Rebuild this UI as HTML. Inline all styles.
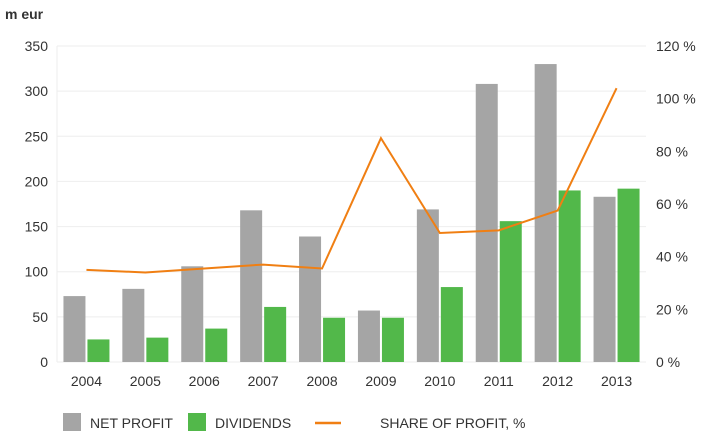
<!DOCTYPE html>
<html><head><meta charset="utf-8"><style>
body{margin:0;background:#fff;font-family:"Liberation Sans",sans-serif;}
svg text{font-family:"Liberation Sans",sans-serif;fill:#333;}
</style></head><body>
<svg width="712" height="435" viewBox="0 0 712 435">
<text x="5" y="19" font-size="14" font-weight="bold" fill="#333">m eur</text>
<g id="grid"></g><g id="bars"></g><g id="line"></g><g id="axes"></g>
<g>
<rect x="63" y="413" width="18" height="18" fill="#a5a5a5"/>
<text x="90" y="428" font-size="14">NET PROFIT</text>
<rect x="188" y="413" width="18" height="18" fill="#52b84a"/>
<text x="215" y="428" font-size="14">DIVIDENDS</text>
<line x1="315" y1="423" x2="341" y2="423" stroke="#f07f13" stroke-width="2.5"/>
<text x="380" y="428" font-size="14">SHARE OF PROFIT, %</text>
</g>
</svg>
<script>
const years=["2004","2005","2006","2007","2008","2009","2010","2011","2012","2013"];
const netProfit=[73,81,106,168,139,57,169,308,330,183];
const dividends=[25,27,37,61,49,49,83,156,190,192];
const sharePct=[35,34,35.5,37,35.5,85,49,50,57.5,104];
const leftTicks=[0,50,100,150,200,250,300,350];
const rightTicks=[0,20,40,60,80,100,120];
const NS="http://www.w3.org/2000/svg";
const x0=57,x1=646,yb=362,yt=46;
const step=(x1-x0)/years.length;
const cx=i=>x0+step*(i+0.5);
const yL=v=>yb-(v/350)*(yb-yt);
const yR=v=>yb-(v/120)*(yb-yt);
function mk(tag,attrs,parent){const e=document.createElementNS(NS,tag);for(const k in attrs)e.setAttribute(k,attrs[k]);document.getElementById(parent).appendChild(e);return e;}
leftTicks.forEach(v=>{
 const l=mk('line',{x1:x0,x2:x1,y1:yL(v),y2:yL(v),stroke:'#eeeeee','stroke-width':1},'grid');
 
 
 const t=mk('text',{x:48,y:yL(v)+5,'font-size':14,'text-anchor':'end'},'axes');t.textContent=v;
 
 
});
rightTicks.forEach(v=>{
 const t=mk('text',{x:656,y:yR(v)+5,'font-size':14},'axes');t.textContent=v+' %';
 
 
});
const ax=mk('line',{x1:x0,x2:x0,y1:yt,y2:yb,stroke:'#eeeeee'},'grid');


years.forEach((y,i)=>{
 const c=cx(i);
 const g=mk('rect',{x:c-23,y:yL(netProfit[i]),width:22,height:yb-yL(netProfit[i]),fill:'#a5a5a5'},'bars');
 
 
 const d=mk('rect',{x:c+1,y:yL(dividends[i]),width:22,height:yb-yL(dividends[i]),fill:'#52b84a'},'bars');
 
 
 const t=mk('text',{x:c,y:386,'font-size':14,'text-anchor':'middle'},'axes');t.textContent=y;
 
 
});
const pts=sharePct.map((v,i)=>cx(i)+','+yR(v)).join(' ');
const pl=mk('polyline',{points:pts,fill:'none',stroke:'#f07f13','stroke-width':2},'line');


</script>
</body></html>
